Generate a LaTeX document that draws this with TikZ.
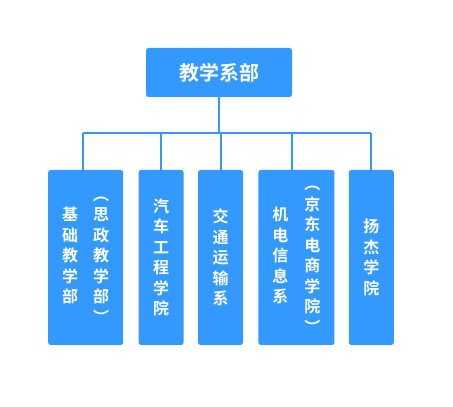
\documentclass[tikz,border=0pt]{standalone}
\usepackage{fontspec}
\setmainfont{Noto Sans CJK SC}[BoldFont={Noto Sans CJK SC Bold}]
\usetikzlibrary{positioning}
\definecolor{deptblue}{RGB}{51,153,255}
\tikzset{%
    box/.style={fill=deptblue, text=white, rounded corners=2.5pt, inner sep=0pt, align=center},%
    dept/.style={box, minimum width=45pt, minimum height=175pt,%
        font=\bfseries\fontsize{16}{20.5}\selectfont},%
    link/.style={draw=deptblue, line width=2pt}%
}
\newcommand{\vcol}[1]{\begin{tabular}{@{}c@{}}#1\end{tabular}}

\begin{document}
\begin{tikzpicture}[x=1pt,y=1pt]
      \useasboundingbox (0,0) rectangle (453,407);
      \node[box, minimum width=146pt, minimum height=49pt,
            font=\bfseries\fontsize{20}{22}\selectfont] (top) at (219,334.5) {教学系部};
      \node[dept, minimum width=75pt, anchor=west] (b1) at (48,149.5)
            {\vcol{基\\础\\教\\学\\部}\hspace{15pt}\vcol{︵\\思\\政\\教\\学\\部\\︶}};
      \node[dept, right=15pt of b1] (b2) {汽\\车\\工\\程\\学\\院};
      \node[dept, right=14pt of b2] (b3) {交\\通\\运\\输\\系};
      \node[dept, minimum width=76pt, right=15pt of b3] (b4)
            {\vcol{机\\电\\信\\息\\系}\hspace{16pt}\vcol{︵\\京\\东\\电\\商\\学\\院\\︶}};
      \node[dept, right=14pt of b4] (b5) {扬\\杰\\学\\院};
      % connectors
      \coordinate (bus) at (0,273.5);
      \draw[link] (top.south) -- (top.south |- bus);
      \draw[link] ([xshift=-2.5pt]b1.north |- bus) -- (b5.north |- bus);
      \draw[link] ([xshift=-2.5pt]b1.north) -- ([xshift=-2.5pt]b1.north |- bus);
      \foreach \n in {b2,b3,b5}
        \draw[link] (\n.north) -- (\n.north |- bus);
      \draw[link] ([xshift=-4pt]b4.north) -- ([xshift=-4pt]b4.north |- bus);
\end{tikzpicture}
\end{document}
